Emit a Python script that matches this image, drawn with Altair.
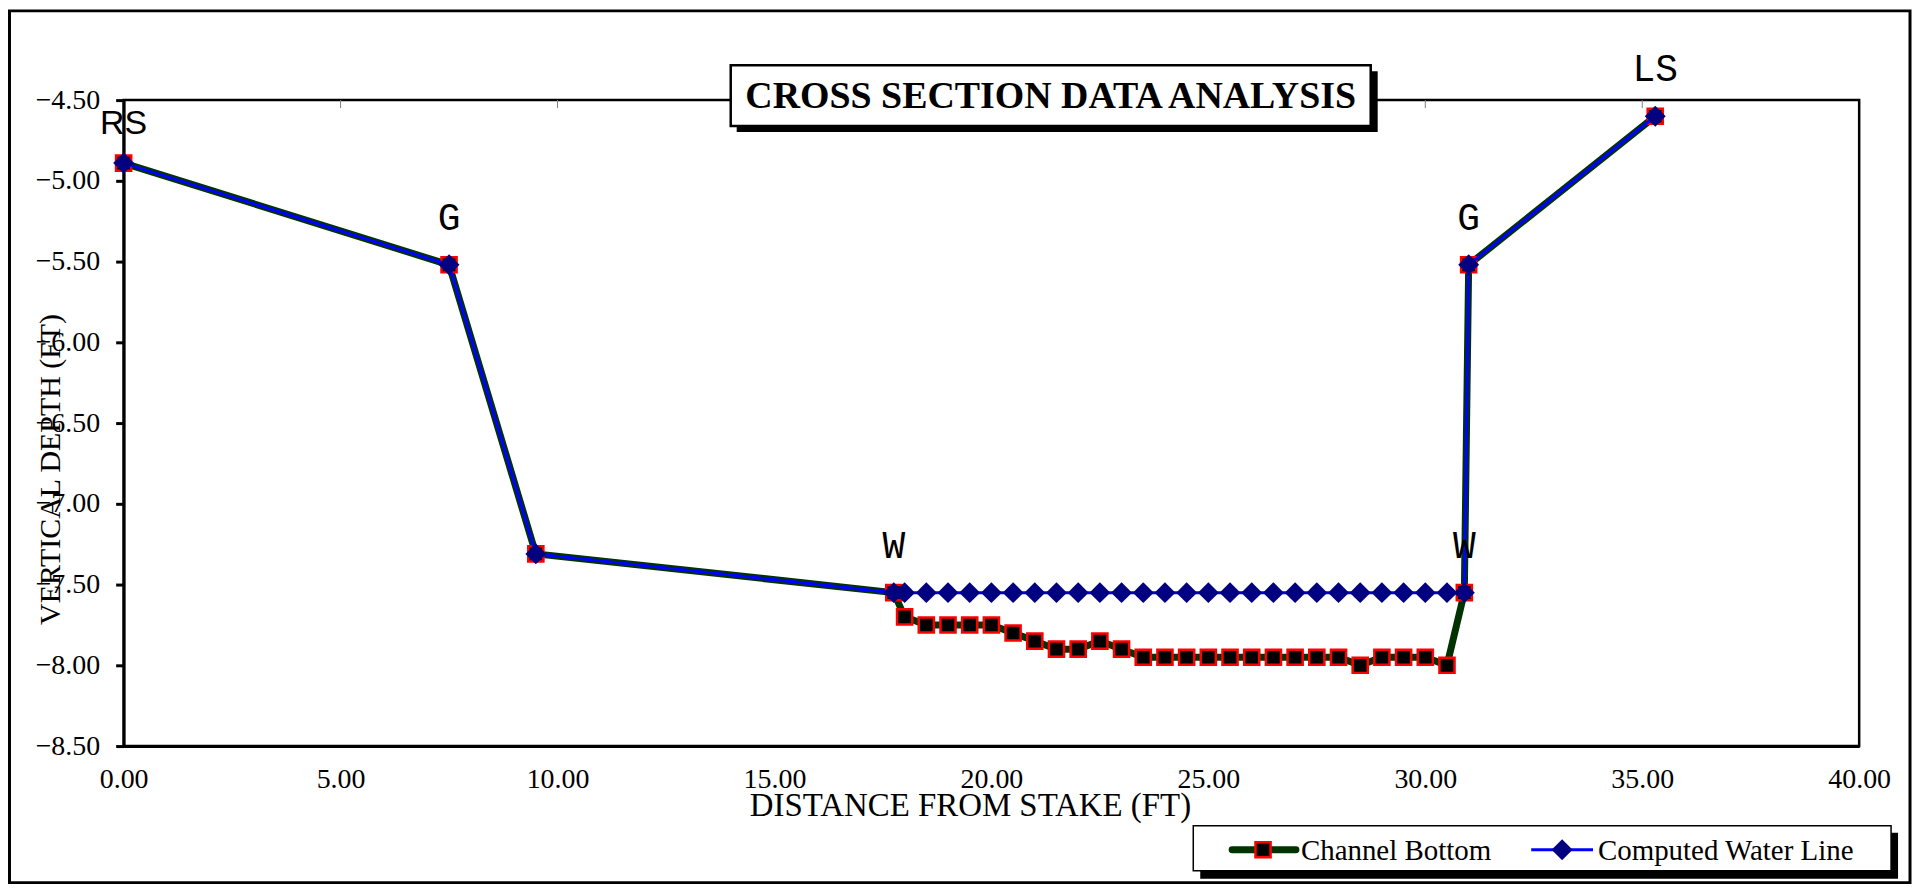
import altair as alt
import pandas as pd

# ---------------- data ----------------
station_ft = [0.0, 7.5, 9.5, 17.75,
              18.0, 18.5, 19.0, 19.5, 20.0, 20.5, 21.0, 21.5, 22.0, 22.5, 23.0,
              23.5, 24.0, 24.5, 25.0, 25.5, 26.0, 26.5, 27.0, 27.5, 28.0,
              28.5, 29.0, 29.5, 30.0, 30.5,
              30.9, 31.0, 35.3]
channel_bottom = [-4.89, -5.52, -7.31, -7.55,
                  -7.70, -7.75, -7.75, -7.75, -7.75, -7.80, -7.85, -7.90, -7.90, -7.85, -7.90,
                  -7.95, -7.95, -7.95, -7.95, -7.95, -7.95, -7.95, -7.95, -7.95, -7.95,
                  -8.00, -7.95, -7.95, -7.95, -8.00,
                  -7.55, -5.52, -4.60]
water_line = [-4.89, -5.52, -7.31, -7.55,
              -7.55, -7.55, -7.55, -7.55, -7.55, -7.55, -7.55, -7.55, -7.55, -7.55, -7.55,
              -7.55, -7.55, -7.55, -7.55, -7.55, -7.55, -7.55, -7.55, -7.55, -7.55,
              -7.55, -7.55, -7.55, -7.55, -7.55,
              -7.55, -5.52, -4.60]

point_labels = ["G", "W", "W", "G", "LS"]
point_label_x = [7.5, 17.75, 30.9, 31.0, 35.3]
point_label_y = [-5.52, -7.55, -7.55, -5.52, -4.60]
rs_label = ["RS"]
rs_label_x = [0.0]
rs_label_y = [-4.89]

x_ticks = [0, 5, 10, 15, 20, 25, 30, 35, 40]
top_ticks = [5, 10, 15, 20, 25, 30, 35]
y_ticks = [-8.5, -8.0, -7.5, -7.0, -6.5, -6.0, -5.5, -5.0, -4.5]

chart_title = "CROSS SECTION DATA ANALYSIS"
x_title = "DISTANCE FROM STAKE (FT)"
y_title = "VERTICAL DEPTH (FT)"
series_names = ["Channel Bottom", "Computed Water Line"]

# ---------------- tables ----------------
df = pd.DataFrame({"station": station_ft, "bottom": channel_bottom, "water": water_line})
lab_df = pd.DataFrame({"x": point_label_x, "y": point_label_y, "t": point_labels})
rs_df = pd.DataFrame({"x": rs_label_x, "y": rs_label_y, "t": rs_label})
top_df = pd.DataFrame({"tx": top_ticks})
one = pd.DataFrame({"k": [0]})

SERIF = "Liberation Serif"
W, H = 1741, 648

xscale = alt.Scale(domain=[0, 40], nice=False, zero=False)
yscale = alt.Scale(domain=[-8.5, -4.5], nice=False, zero=False)

xaxis = alt.Axis(values=x_ticks, format=".2f", tickSize=0, domainWidth=3, domainColor="black",
                 labelFont=SERIF, labelFontSize=28, labelColor="black", labelPadding=20,
                 labelFlush=False, labelOverlap=False, grid=False,
                 title=x_title, titleFont=SERIF, titleFontSize=33, titleFontWeight="normal",
                 titleColor="black", titleX=849, titleY=60, titleBaseline="middle", titleAlign="center")
yaxis = alt.Axis(values=y_ticks, format=".2f", tickSize=8, tickWidth=3, tickColor="black",
                 domainWidth=3, domainColor="black",
                 labelFont=SERIF, labelFontSize=28, labelColor="black", labelPadding=16,
                 labelOverlap=False, grid=False,
                 title=y_title, titleFont=SERIF, titleFontSize=30, titleFontWeight="normal",
                 titleColor="black", titleX=-73, titleY=370, titleBaseline="middle",
                 titleAlign="center", titleAngle=270)

# ---------------- decorations (frame, title box, legend box) ----------------
frame = alt.Chart(one).mark_rect(fill=None, stroke="black", strokeWidth=3).encode(
    x=alt.value(-114.5), x2=alt.value(1792), y=alt.value(-89.5), y2=alt.value(785))

title_shadow = alt.Chart(one).mark_rect(fill="black").encode(
    x=alt.value(615), x2=alt.value(1258), y=alt.value(-29), y2=alt.value(32))
title_box = alt.Chart(one).mark_rect(fill="white", stroke="black", strokeWidth=2.5).encode(
    x=alt.value(609), x2=alt.value(1251), y=alt.value(-35), y2=alt.value(26))
title_text = alt.Chart(one).mark_text(font=SERIF, fontSize=38, fontWeight="bold",
                                      align="center", baseline="middle", color="black").encode(
    x=alt.value(930), y=alt.value(-3), text=alt.value(chart_title))

legend_shadow = alt.Chart(one).mark_rect(fill="black").encode(
    x=alt.value(1080), x2=alt.value(1780), y=alt.value(735), y2=alt.value(781))
legend_box = alt.Chart(one).mark_rect(fill="white", stroke="black", strokeWidth=1.5).encode(
    x=alt.value(1073), x2=alt.value(1773), y=alt.value(728), y2=alt.value(773))
leg_line1 = alt.Chart(one).mark_rule(color="#003300", strokeWidth=7, strokeCap="round").encode(
    x=alt.value(1112), x2=alt.value(1176), y=alt.value(752))
leg_pt1 = alt.Chart(one).mark_point(shape="square", filled=True, fill="black", stroke="red",
                                    strokeWidth=2.5, size=230, opacity=1).encode(
    x=alt.value(1143), y=alt.value(752))
leg_txt1 = alt.Chart(one).mark_text(font=SERIF, fontSize=29, align="left", baseline="middle",
                                    color="black").encode(
    x=alt.value(1181), y=alt.value(753), text=alt.value(series_names[0]))
leg_line2 = alt.Chart(one).mark_rule(color="blue", strokeWidth=3).encode(
    x=alt.value(1412), x2=alt.value(1474), y=alt.value(752))
leg_pt2 = alt.Chart(one).mark_point(shape="diamond", filled=True, color="#000080",
                                    size=440, opacity=1).encode(
    x=alt.value(1443), y=alt.value(752))
leg_txt2 = alt.Chart(one).mark_text(font=SERIF, fontSize=29, align="left", baseline="middle",
                                    color="black").encode(
    x=alt.value(1479), y=alt.value(753), text=alt.value(series_names[1]))

top_tick_rules = alt.Chart(top_df).mark_rule(color="#808080", strokeWidth=1).encode(
    x=alt.X("tx:Q", scale=xscale), y=alt.value(0), y2=alt.value(8))

# ---------------- data marks ----------------
base = alt.Chart(df)
bottom_line = base.mark_line(color="#003300", strokeWidth=7).encode(
    x=alt.X("station:Q", scale=xscale, axis=xaxis),
    y=alt.Y("bottom:Q", scale=yscale, axis=yaxis))
bottom_pts = base.mark_point(shape="square", filled=True, fill="black", stroke="red",
                             strokeWidth=2.5, size=230, opacity=1).encode(
    x=alt.X("station:Q", scale=xscale), y=alt.Y("bottom:Q", scale=yscale))
water_ln = base.mark_line(color="blue", strokeWidth=3).encode(
    x=alt.X("station:Q", scale=xscale), y=alt.Y("water:Q", scale=yscale))
water_pts = base.mark_point(shape="diamond", filled=True, color="#000080",
                            size=440, opacity=1).encode(
    x=alt.X("station:Q", scale=xscale), y=alt.Y("water:Q", scale=yscale))

labels = alt.Chart(lab_df).mark_text(font="Liberation Mono", fontSize=38, dy=-46,
                                     baseline="middle", align="center", color="black").encode(
    x=alt.X("x:Q", scale=xscale), y=alt.Y("y:Q", scale=yscale), text="t:N")
rs_text = alt.Chart(rs_df).mark_text(font="Liberation Sans", fontSize=34, dy=-39,
                                     baseline="middle", align="center", color="black").encode(
    x=alt.X("x:Q", scale=xscale), y=alt.Y("y:Q", scale=yscale), text="t:N")

chart = alt.layer(
    frame, top_tick_rules,
    bottom_line, bottom_pts, water_ln, water_pts,
    labels, rs_text,
    title_shadow, title_box, title_text,
    legend_shadow, legend_box, leg_line1, leg_pt1, leg_txt1, leg_line2, leg_pt2, leg_txt2,
).properties(
    width=W, height=H,
    autosize=alt.AutoSizeParams(type="none"),
    padding={"left": 116, "top": 91, "right": 54, "bottom": 139},
    background="white",
).configure_view(
    stroke="black", strokeWidth=2.5
)

chart.save("out.html", embed_options={"renderer": "svg", "actions": False})
